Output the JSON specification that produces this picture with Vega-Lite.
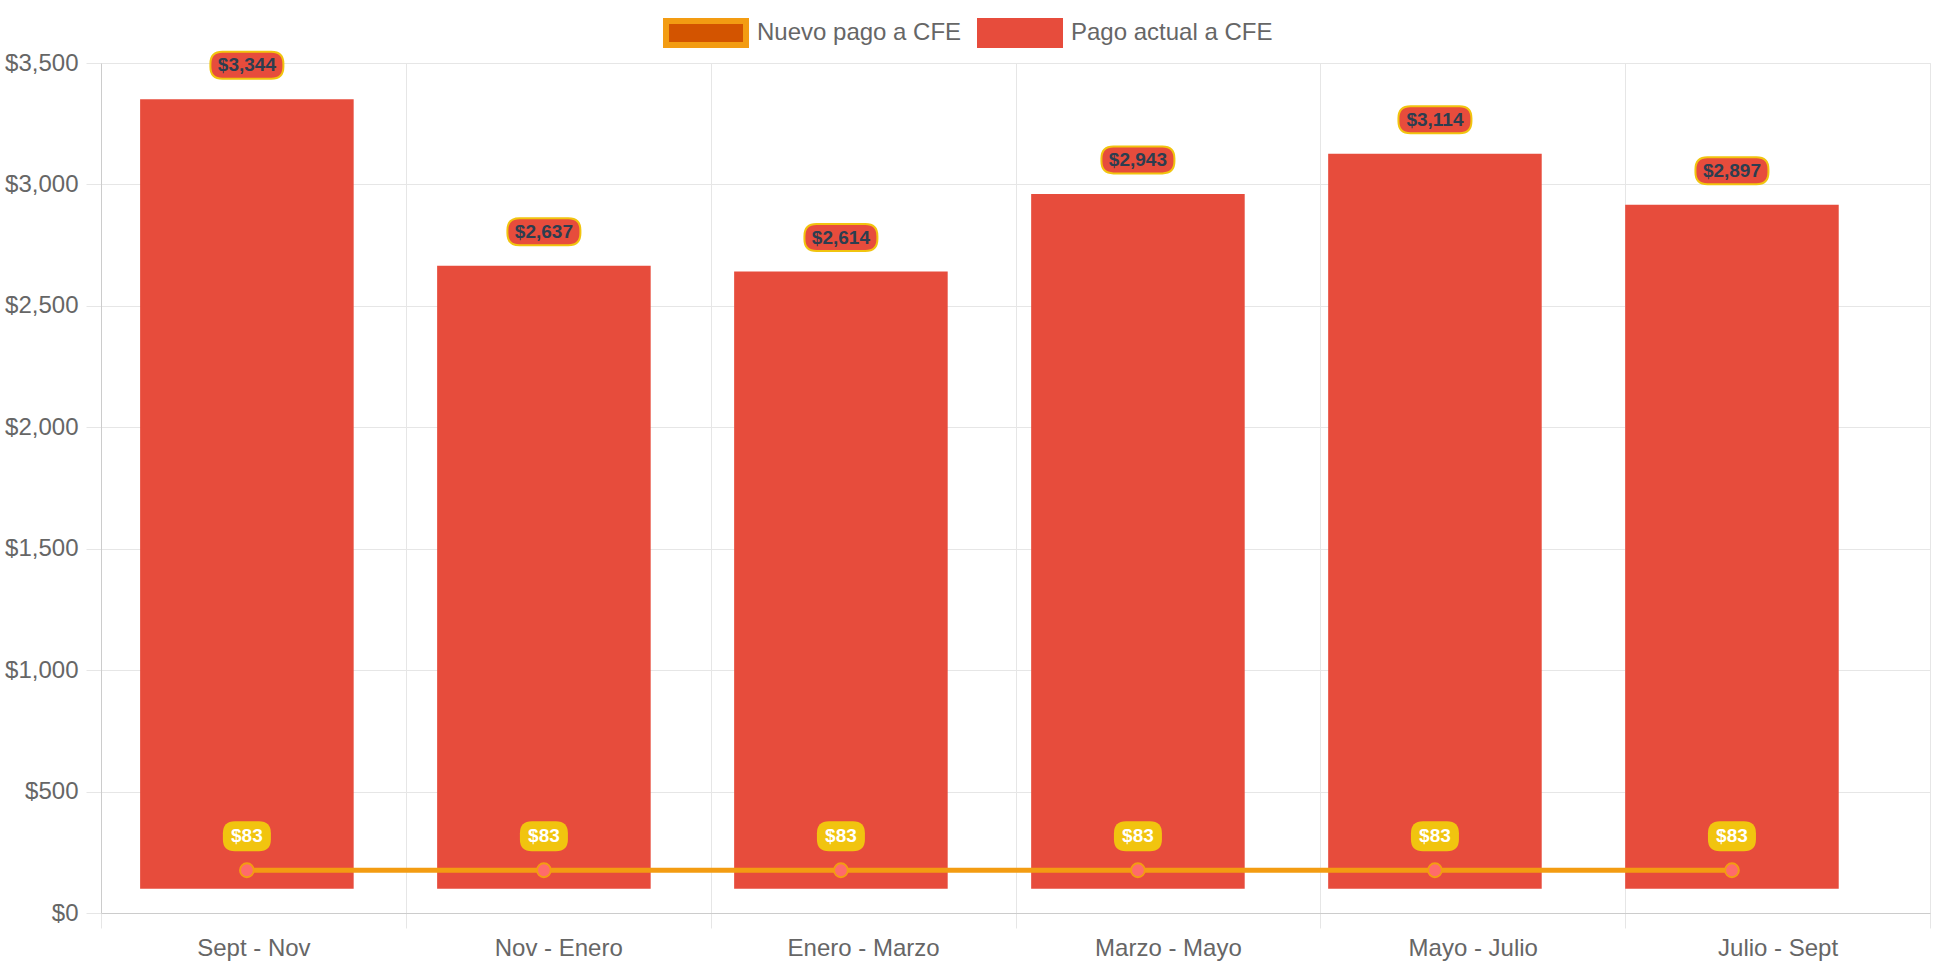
{
  "$schema": "https://vega.github.io/schema/vega-lite/v6.json",
  "autosize": {"type": "none"},
  "width": 1829,
  "height": 850,
  "padding": {"left": 101, "top": 63, "right": 12, "bottom": 57},
  "background": "#ffffff",
  "config": {
    "font": "Liberation Sans",
    "view": {"stroke": "#e6e6e6", "strokeWidth": 1}
  },
  "data": {
    "values": [
      {"period": "Sept - Nov", "pago_actual": 3344, "nuevo_pago": 83, "bar_top": 3351, "bar_base": 100, "line_y": 176},
      {"period": "Nov - Enero", "pago_actual": 2637, "nuevo_pago": 83, "bar_top": 2665, "bar_base": 100, "line_y": 176},
      {"period": "Enero - Marzo", "pago_actual": 2614, "nuevo_pago": 83, "bar_top": 2641, "bar_base": 100, "line_y": 176},
      {"period": "Marzo - Mayo", "pago_actual": 2943, "nuevo_pago": 83, "bar_top": 2961, "bar_base": 100, "line_y": 176},
      {"period": "Mayo - Julio", "pago_actual": 3114, "nuevo_pago": 83, "bar_top": 3126, "bar_base": 100, "line_y": 176},
      {"period": "Julio - Sept", "pago_actual": 2897, "nuevo_pago": 83, "bar_top": 2916, "bar_base": 100, "line_y": 176}
    ]
  },
  "resolve": {"scale": {"x": "independent"}, "axis": {"x": "independent"}},
  "layer": [
    {
      "mark": {"type": "point", "opacity": 0},
      "encoding": {
        "x": {
          "field": "period", "type": "nominal", "sort": null,
          "scale": {"type": "band", "paddingInner": 0, "paddingOuter": 0},
          "axis": {
            "title": null, "tickBand": "extent", "grid": true, "gridColor": "#e6e6e6", "gridWidth": 1,
            "tickSize": 15, "tickColor": "#e6e6e6", "domainColor": "#cccccc", "domainWidth": 1,
            "labelFontSize": 24, "labelColor": "#666666", "labelPadding": 8, "labelAngle": 0
          }
        },
        "y": {
          "field": "line_y", "type": "quantitative",
          "scale": {"domain": [0, 3500], "nice": false},
          "axis": {
            "title": null, "values": [0, 500, 1000, 1500, 2000, 2500, 3000, 3500], "format": "$,.0f",
            "grid": true, "gridColor": "#e6e6e6", "tickSize": 15, "tickColor": "#e6e6e6",
            "domainColor": "#cccccc", "labelFontSize": 24, "labelColor": "#666666", "labelPadding": 8
          }
        }
      }
    },
    {
      "encoding": {
        "x": {
          "field": "period", "type": "nominal", "sort": null,
          "scale": {"type": "band", "paddingInner": 0.281, "paddingOuter": 0.2195, "align": 0.3},
          "axis": null
        }
      },
      "layer": [
        {
          "mark": {"type": "bar"},
          "encoding": {
            "y": {"field": "bar_top", "type": "quantitative", "axis": {"title": null}},
            "y2": {"field": "bar_base"},
            "color": {
              "datum": "Pago actual a CFE",
              "scale": {"domain": ["Nuevo pago a CFE", "Pago actual a CFE"], "range": ["#d35400", "#e74c3c"]},
              "legend": {
                "title": null, "orient": "none", "direction": "horizontal", "legendX": 562, "legendY": -73,
                "padding": 0, "symbolType": "M-1,-0.3H1V0.3H-1Z", "symbolSize": 6400,
                "symbolStrokeWidth": 6, "labelLimit": 0,
                "labelFontSize": 24, "labelColor": "#666666", "labelOffset": 8, "columnPadding": 6,
                "encode": {
                  "symbols": {
                    "update": {
                      "stroke": {"signal": "datum.value === 'Nuevo pago a CFE' ? '#f39c12' : '#e74c3c'"},
                      "strokeWidth": {"value": 6},
                      "opacity": {"value": 1},
                      "strokeOpacity": {"value": 1}
                    }
                  }
                }
              }
            }
          }
        },
        {
          "mark": {"type": "line", "strokeWidth": 5, "stroke": "#f39c12"},
          "encoding": {
            "y": {"field": "line_y", "type": "quantitative", "axis": {"title": null}}
          }
        },
        {
          "mark": {"type": "point", "filled": true, "fill": "#ff6b6b", "stroke": "#f39c12", "strokeWidth": 2, "size": 190, "opacity": 1},
          "encoding": {
            "y": {"field": "line_y", "type": "quantitative", "axis": {"title": null}}
          }
        },
        {
          "mark": {
            "type": "point", "filled": true, "fill": "#e74c3c", "stroke": "#f1c40f", "strokeWidth": 2, "opacity": 1,
            "size": 5329, "yOffset": -34,
            "shape": "M-0.67,-0.37L0.67,-0.37Q1,-0.37 1,-0.04L1,0.04Q1,0.37 0.67,0.37L-0.67,0.37Q-1,0.37 -1,0.04L-1,-0.04Q-1,-0.37 -0.67,-0.37Z"
          },
          "encoding": {
            "y": {"field": "bar_top", "type": "quantitative", "axis": {"title": null}}
          }
        },
        {
          "mark": {"type": "text", "yOffset": -34, "baseline": "middle", "align": "center", "fontSize": 19, "fontWeight": "bold", "fill": "#2c3e50"},
          "encoding": {
            "y": {"field": "bar_top", "type": "quantitative", "axis": {"title": null}},
            "text": {"field": "pago_actual", "type": "quantitative", "format": "$,.0f"}
          }
        },
        {
          "mark": {
            "type": "point", "filled": true, "fill": "#f1c40f", "strokeWidth": 0, "opacity": 1,
            "size": 2304, "yOffset": -34,
            "shape": "M-0.5,-0.625L0.5,-0.625Q1,-0.625 1,-0.125L1,0.125Q1,0.625 0.5,0.625L-0.5,0.625Q-1,0.625 -1,0.125L-1,-0.125Q-1,-0.625 -0.5,-0.625Z"
          },
          "encoding": {
            "y": {"field": "line_y", "type": "quantitative", "axis": {"title": null}}
          }
        },
        {
          "mark": {"type": "text", "yOffset": -34, "baseline": "middle", "align": "center", "fontSize": 19, "fontWeight": "bold", "fill": "#ffffff"},
          "encoding": {
            "y": {"field": "line_y", "type": "quantitative", "axis": {"title": null}},
            "text": {"field": "nuevo_pago", "type": "quantitative", "format": "$,.0f"}
          }
        }
      ]
    }
  ]
}
